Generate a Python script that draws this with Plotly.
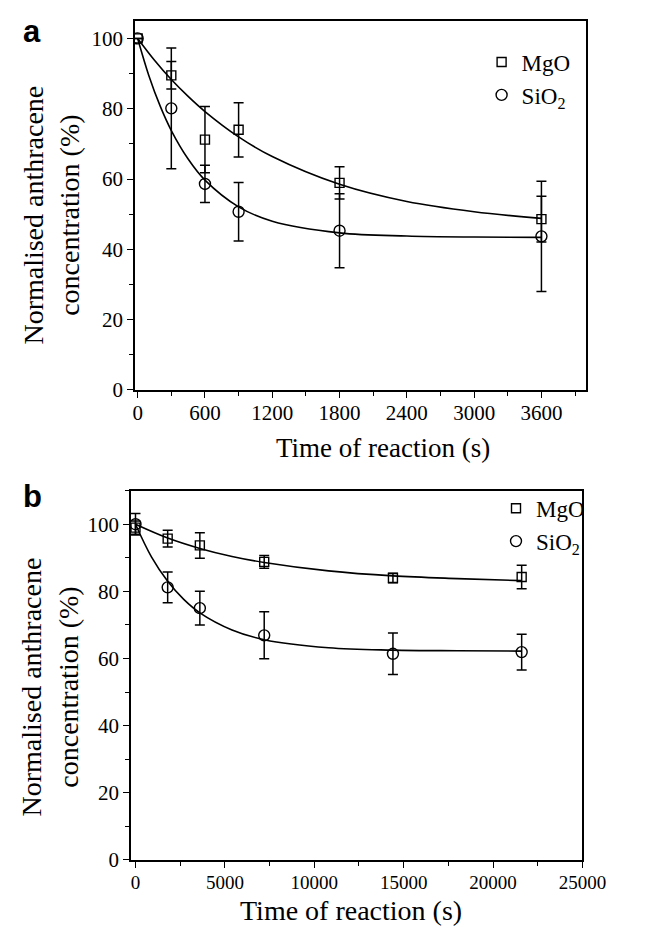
import plotly.graph_objects as go

# ---------------- data ----------------
# Panel a
t_a = [0, 300, 600, 900, 1800, 3600]
mgo_a = [100, 89.5, 71.2, 74.0, 58.9, 48.6]
mgo_a_err = [0, 3.9, 9.4, 7.7, 4.6, 6.5]
sio2_a = [100, 80.1, 58.6, 50.7, 45.3, 43.7]
sio2_a_err = [0, 17.2, 5.3, 8.3, 10.5, 15.7]

fit_t_mgo_a = [0, 150, 300, 450, 600, 900, 1200, 1800, 2400, 3000, 3600]
fit_mgo_a = [100, 93.8, 88.3, 83.5, 79.2, 72.0, 66.4, 58.5, 53.6, 50.7, 48.8]
fit_t_sio2_a = [0, 100, 200, 300, 450, 600, 900, 1200, 1800, 2400, 3000, 3600]
fit_sio2_a = [100, 89.4, 80.8, 73.8, 65.7, 59.7, 52.1, 48.0, 44.7, 43.8, 43.5, 43.4]

# Panel b
t_b = [0, 1800, 3600, 7200, 14400, 21600]
mgo_b = [99.0, 95.7, 93.7, 88.8, 84.0, 84.3]
mgo_b_err = [2.0, 2.5, 3.8, 1.9, 1.4, 3.5]
sio2_b = [100, 81.2, 75.0, 66.9, 61.4, 61.9]
sio2_b_err = [3.2, 4.6, 5.0, 7.0, 6.2, 5.3]

fit_t_mgo_b = [0, 1800, 3600, 5400, 7200, 10800, 14400, 18000, 21600]
fit_mgo_b = [100, 95.9, 92.8, 90.4, 88.6, 86.1, 84.6, 83.8, 83.2]
fit_t_sio2_b = [0, 900, 1800, 2700, 3600, 5400, 7200, 10800, 14400, 18000, 21600]
fit_sio2_b = [100, 90.2, 83.0, 77.6, 73.6, 68.5, 65.6, 63.2, 62.5, 62.3, 62.2]

xticks_a = [0, 600, 1200, 1800, 2400, 3000, 3600]
xticks_b = [0, 5000, 10000, 15000, 20000, 25000]
yticks = [0, 20, 40, 60, 80, 100]

# ---------------- layout helpers ----------------
W, H = 658, 928
def px(x):
    return x / W
def py(y):
    return 1 - y / H

SERIF = "Liberation Serif"
BLACK = "#000000"

fig = go.Figure()

def add_panel(xa, ya, t, mgo, mgo_err, sio2, sio2_err,
              ft_m, fm, ft_s, fs, legend, showleg=True):
    fig.add_trace(go.Scatter(x=ft_m, y=fm, mode="lines", line=dict(color=BLACK, width=1.6, shape="spline", smoothing=1.0),
                             xaxis=xa, yaxis=ya, showlegend=False, hoverinfo="skip"))
    fig.add_trace(go.Scatter(x=ft_s, y=fs, mode="lines", line=dict(color=BLACK, width=1.6, shape="spline", smoothing=1.0),
                             xaxis=xa, yaxis=ya, showlegend=False, hoverinfo="skip"))
    fig.add_trace(go.Scatter(x=t, y=mgo, mode="markers", name="MgO",
                             marker=dict(symbol="square-open", size=9, color=BLACK, line=dict(width=1.4, color=BLACK)),
                             error_y=dict(type="data", array=mgo_err, visible=True, color=BLACK, thickness=1.5, width=5),
                             xaxis=xa, yaxis=ya, legend=legend, showlegend=showleg))
    fig.add_trace(go.Scatter(x=t, y=sio2, mode="markers", name="SiO<sub>2</sub>",
                             marker=dict(symbol="circle-open", size=11, color=BLACK, line=dict(width=1.4, color=BLACK)),
                             error_y=dict(type="data", array=sio2_err, visible=True, color=BLACK, thickness=1.5, width=5),
                             xaxis=xa, yaxis=ya, legend=legend, showlegend=showleg))

add_panel("x", "y", t_a, mgo_a, mgo_a_err, sio2_a, sio2_a_err,
          fit_t_mgo_a, fit_mgo_a, fit_t_sio2_a, fit_sio2_a, "legend")
add_panel("x2", "y2", t_b, mgo_b, mgo_b_err, sio2_b, sio2_b_err,
          fit_t_mgo_b, fit_mgo_b, fit_t_sio2_b, fit_sio2_b, "legend2")

axis_common = dict(showline=True, linecolor=BLACK, linewidth=1.5, mirror=True,
                   ticks="outside", tickcolor=BLACK, tickwidth=1.3, ticklen=6,
                   showgrid=False, zeroline=False, color=BLACK)

fig.update_layout(
    width=W, height=H,
    margin=dict(l=0, r=0, t=0, b=0),
    paper_bgcolor="white", plot_bgcolor="white",
    font=dict(family=SERIF, color=BLACK),
    xaxis=dict(domain=[px(130), px(600)], anchor="y", range=[-25, 4000],
               tickvals=xticks_a, ticktext=[str(v) for v in xticks_a],
               minor=dict(tickvals=[300, 900, 1500, 2100, 2700, 3300, 3900], ticks="outside", ticklen=4, tickcolor=BLACK, tickwidth=1.3),
               tickfont=dict(family=SERIF, size=21), ticklabelstandoff=-3, **axis_common),
    yaxis=dict(domain=[py(387), py(13)], anchor="x", range=[0, 105],
               tickvals=yticks, ticktext=[str(v) for v in yticks],
               minor=dict(tickvals=[10, 30, 50, 70, 90], ticks="outside", ticklen=4, tickcolor=BLACK, tickwidth=1.3),
               tickfont=dict(family=SERIF, size=21), **axis_common),
    xaxis2=dict(domain=[px(126), px(596)], anchor="y2", range=[-250, 25000],
                tickvals=xticks_b, ticktext=[str(v) for v in xticks_b],
                minor=dict(tickvals=[2500, 7500, 12500, 17500, 22500], ticks="outside", ticklen=4, tickcolor=BLACK, tickwidth=1.3),
                tickfont=dict(family=SERIF, size=19), ticklabelstandoff=-1, **axis_common),
    yaxis2=dict(domain=[py(863), py(489)], anchor="x2", range=[0, 110],
                tickvals=yticks, ticktext=[str(v) for v in yticks],
                minor=dict(tickvals=[10, 30, 50, 70, 90, 110], ticks="outside", ticklen=4, tickcolor=BLACK, tickwidth=1.3),
                tickfont=dict(family=SERIF, size=21), **axis_common),
    legend=dict(x=px(491), y=py(33), xanchor="left", yanchor="top",
                bgcolor="rgba(0,0,0,0)", font=dict(family=SERIF, size=23), tracegroupgap=0, itemwidth=30),
    legend2=dict(x=px(506), y=py(485), xanchor="left", yanchor="top",
                 bgcolor="rgba(0,0,0,0)", font=dict(family=SERIF, size=23), tracegroupgap=0, itemwidth=30),
)

ytitle = "Normalised anthracene<br>concentration (%)"
annotations = [
    dict(text="<b>a</b>", x=px(23), y=py(24), xref="paper", yref="paper", showarrow=False,
         font=dict(family="Liberation Sans", size=31, color=BLACK), xanchor="center", yanchor="middle"),
    dict(text="<b>b</b>", x=px(23), y=py(495), xref="paper", yref="paper", showarrow=False,
         font=dict(family="Liberation Sans", size=31, color=BLACK), xanchor="center", yanchor="middle"),
    dict(text="Time of reaction (s)", x=px(388), y=py(446), xref="paper", yref="paper", showarrow=False,
         font=dict(family=SERIF, size=27, color=BLACK), xanchor="center", yanchor="middle"),
    dict(text="Time of reaction (s)", x=px(355), y=py(914), xref="paper", yref="paper", showarrow=False,
         font=dict(family=SERIF, size=28, color=BLACK), xanchor="center", yanchor="middle"),
    dict(text=ytitle, x=px(43), y=py(210), xref="paper", yref="paper", showarrow=False, textangle=-90,
         font=dict(family=SERIF, size=28, color=BLACK), xanchor="center", yanchor="middle"),
    dict(text=ytitle, x=px(41), y=py(688), xref="paper", yref="paper", showarrow=False, textangle=-90,
         font=dict(family=SERIF, size=28, color=BLACK), xanchor="center", yanchor="middle"),
]
fig.update_layout(annotations=annotations)

fig.write_html("out.html")
